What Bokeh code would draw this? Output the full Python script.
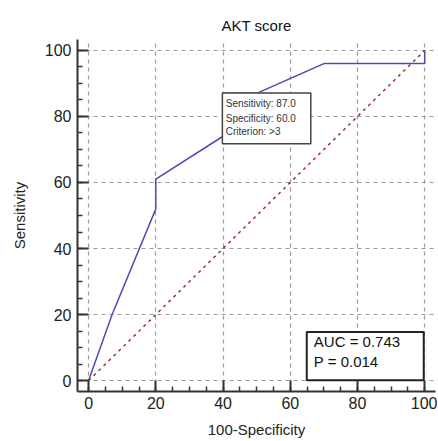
from bokeh.plotting import figure
from bokeh.models import Range1d, SingleIntervalTicker
from bokeh.core.properties import value
from bokeh.embed import file_html
from bokeh.resources import INLINE

# ROC curve data (100-Specificity, Sensitivity)
roc_x = [0, 7, 20, 20, 40, 40, 50, 70, 100, 100]
roc_y = [0, 20, 52, 61, 74, 87, 87, 96, 96, 100]
diag_x = [0, 100]
diag_y = [0, 100]
ticks = [0, 20, 40, 60, 80, 100]

crit_lines = ["Sensitivity: 87.0", "Specificity: 60.0", "Criterion: >3"]
auc_lines = ["AUC  = 0.743", "P  = 0.014"]

FONT = "Liberation Sans"

p = figure(width=437, height=440, output_backend="svg", toolbar_location=None,
           x_range=Range1d(-3.3, 103.2), y_range=Range1d(-3.3, 103.3),
           min_border_left=77, min_border_right=2, min_border_top=39, min_border_bottom=43,
           title="AKT score")
p.outline_line_color = None
p.background_fill_color = "white"
p.border_fill_color = "white"

p.title.align = "center"
p.title.text_font = FONT
p.title.text_font_size = "15px"
p.title.text_font_style = "normal"
p.title.text_color = "#111111"
p.title.offset = 0
p.title.standoff = 11

for ax in (p.xaxis[0], p.yaxis[0]):
    ax.ticker = SingleIntervalTicker(interval=20, num_minor_ticks=4)
    ax.axis_line_color = "#333333"
    ax.axis_line_width = 2
    ax.major_tick_in = 11
    ax.major_tick_out = 0
    ax.minor_tick_in = 5
    ax.minor_tick_out = 0
    ax.major_tick_line_color = "#333333"
    ax.major_tick_line_width = 2
    ax.minor_tick_line_color = "#333333"
    ax.minor_tick_line_width = 1.5
    ax.major_label_text_font = FONT
    ax.major_label_text_font_size = "16px"
    ax.major_label_text_color = "#222222"
    ax.axis_label_text_font = FONT
    ax.axis_label_text_font_size = "15px"
    ax.axis_label_text_font_style = "normal"
    ax.axis_label_text_color = "#222222"

p.xaxis.axis_label = "100-Specificity"
p.yaxis.axis_label = "Sensitivity"
p.xaxis.major_label_standoff = 5
p.yaxis.major_label_standoff = 6
p.xaxis.axis_label_standoff = 9
p.yaxis.axis_label_standoff = 14

for g in (p.xgrid[0], p.ygrid[0]):
    g.ticker = SingleIntervalTicker(interval=20)
    g.grid_line_color = "#999999"
    g.grid_line_dash = "4 4"
    g.grid_line_width = 1.2

# diagonal reference line
p.line(diag_x, diag_y, line_color="#a0302f", line_dash="3 4", line_width=1.5)
# ROC curve
p.line(roc_x, roc_y, line_color="#4b4bb0", line_width=1.5)

# criterion box
p.quad(left=[39.8], right=[66.1], top=[87.1], bottom=[71.7],
       fill_color="white", line_color="#444444", line_width=1.5)
p.text(x=[40.8] * 3, y=[83.8, 79.5, 75.3], text=crit_lines,
       text_font=value(FONT), text_font_size="10px", text_color="#333333",
       text_baseline="middle", text_align="left")

# AUC box
p.quad(left=[64.9], right=[99.7], top=[14.7], bottom=[0.1],
       fill_color="white", line_color="#222222", line_width=2)
p.text(x=[67.0] * 2, y=[11.8, 5.8], text=auc_lines,
       text_font=value(FONT), text_font_size="15px", text_color="#111111",
       text_baseline="middle", text_align="left")

open("out.html", "w").write(file_html(p, INLINE))
